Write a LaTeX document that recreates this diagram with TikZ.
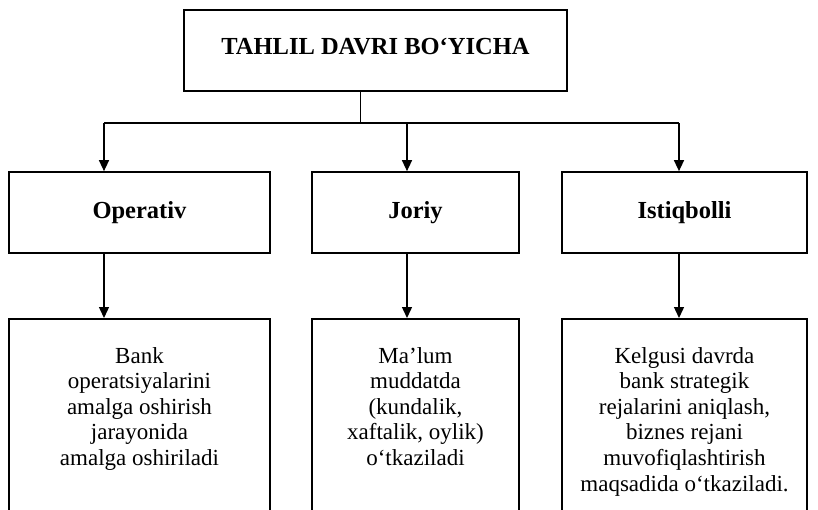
\documentclass[tikz,border=0pt]{standalone}
\usepackage{fontspec}
\setmainfont{Liberation Serif}
\usetikzlibrary{arrows.meta,positioning}

\begin{document}
\begin{tikzpicture}[x=1pt,y=-1pt,
  box/.style={draw,line width=1.7pt,inner sep=0pt,minimum height=81pt,
    font=\fontsize{24.5}{28}\selectfont\bfseries},
  descbox/.style={draw,line width=1.7pt,inner sep=0pt,anchor=north,minimum height=215pt},
  desc/.style={align=center,inner sep=0pt,anchor=north,
    font=\fontsize{23}{25.6}\selectfont},
  arr/.style={line width=1.4pt,-{Triangle[length=11pt,width=10pt]}},
  bus/.style={line width=1.8pt}]
\useasboundingbox (0,0) rectangle (818,509);
\clip (0,0) rectangle (818,509);

\node[box,minimum width=383pt,text height=17pt,text depth=10pt] (top) at (375.5,50.5) {TAHLIL DAVRI BO‘YICHA};

\node[box,minimum width=261pt] (oper) at (139.5,212.5) {Operativ};
\node[box,minimum width=207pt] (jor) at (415.5,212.5) {Joriy};
\node[box,minimum width=245pt] (istiq) at (684.5,212.5) {Istiqbolli};

\node[descbox,minimum width=261pt] (operd) at (139.5,318) {};
\node[descbox,minimum width=207pt] (jord) at (415.5,318) {};
\node[descbox,minimum width=245pt] (istiqd) at (684.5,318) {};

\node[desc,below=29pt of operd.north] (operdtxt)
  {Bank\\operatsiyalarini\\amalga oshirish\\jarayonida\\amalga oshiriladi};
\node[desc,below=29pt of jord.north] (jordtxt)
  {Ma’lum\\muddatda\\(kundalik,\\xaftalik, oylik)\\o‘tkaziladi};
\node[desc,below=29pt of istiqd.north] (istiqdtxt)
  {Kelgusi davrda\\bank strategik\\rejalarini aniqlash,\\biznes rejani\\muvofiqlashtirish\\maqsadida o‘tkaziladi.};

\coordinate (hub) at (360,123);
\coordinate (busL) at (104,123);
\coordinate (busM) at (407,123);
\coordinate (busR) at (679,123);

\draw[line width=1pt] (top.south -| hub) -- (hub);
\draw[bus] (busL) -- (busR);
\foreach \b/\u/\d in {busL/oper/operd, busM/jor/jord, busR/istiq/istiqd}
{
	\draw[arr] (\b) -- (\b |- \u.north);
	\draw[arr] (\u.south -| \b) -- (\b |- \d.north);
}
\end{tikzpicture}
\end{document}
